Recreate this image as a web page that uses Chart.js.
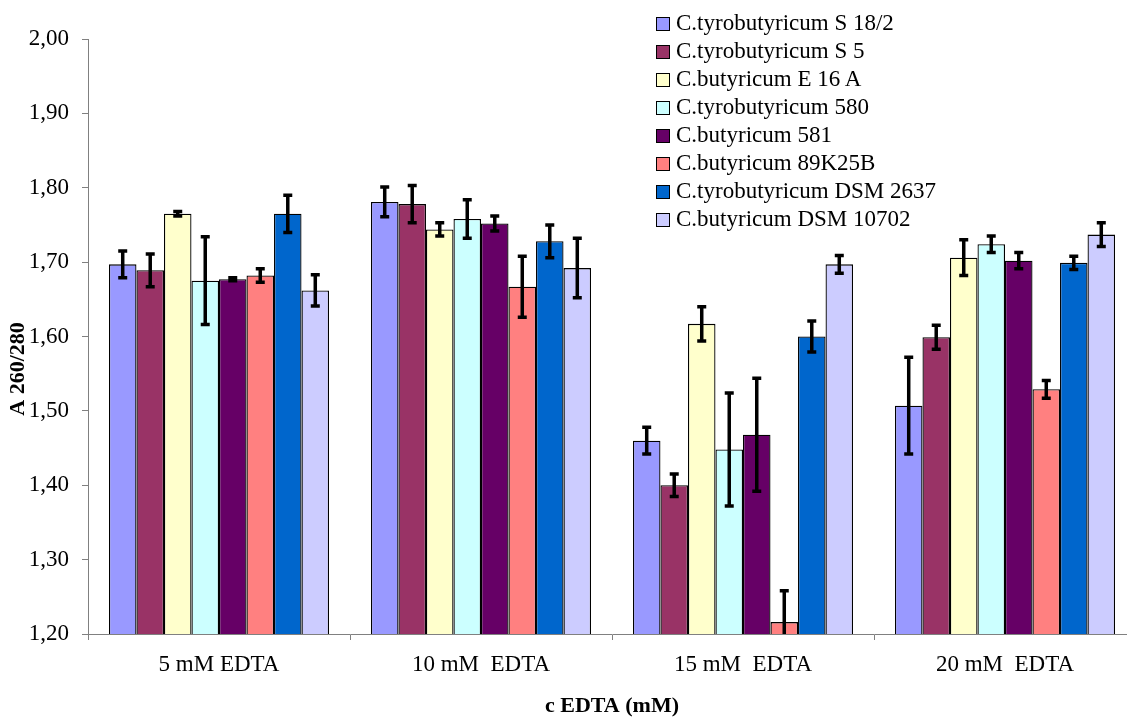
<!DOCTYPE html>
<html>
<head>
<meta charset="utf-8">
<script src="https://cdn.jsdelivr.net/npm/chart.js@4/dist/chart.umd.min.js"></script>
<style>
html, body { margin: 0; padding: 0; background: #fff; overflow: hidden; }
#wrap { position: relative; width: 1140px; height: 718px; }
#legend { position: absolute; left: 656px; top: 9px; font-family: 'Liberation Serif', 'Times New Roman', serif; font-size: 23px; color: #000; }
#legend .row { height: 28px; line-height: 28px; white-space: nowrap; }
#legend .box { display: inline-block; width: 12px; height: 12px; border: 1px solid #000; margin-right: 6px; vertical-align: -1px; }
</style>
</head>
<body>
<div id="wrap">
  <canvas id="edtaChart"></canvas>
  <div id="legend"></div>
</div>
<script>
var categories = ['5 mM EDTA', '10 mM  EDTA', '15 mM  EDTA', '20 mM  EDTA'];

var strains = ['C.tyrobutyricum S 18/2', 'C.tyrobutyricum S 5', 'C.butyricum E 16 A', 'C.tyrobutyricum 580',
               'C.butyricum 581', 'C.butyricum 89K25B', 'C.tyrobutyricum DSM 2637', 'C.butyricum DSM 10702'];

var colors = ['#9999FF', '#993366', '#FFFFCC', '#CCFFFF', '#660066', '#FF8080', '#0066CC', '#CCCCFF'];

// A 260/280 means and their deviations, one array per strain
var tyroS18 = [1.697, 1.781, 1.460, 1.507];
var tyroS18Err = [0.018, 0.020, 0.018, 0.065];
var tyroS5 = [1.689, 1.778, 1.400, 1.599];
var tyroS5Err = [0.022, 0.025, 0.015, 0.016];
var butE16A = [1.765, 1.744, 1.617, 1.706];
var butE16AErr = [0.003, 0.009, 0.023, 0.024];
var tyro580 = [1.675, 1.758, 1.448, 1.724];
var tyro580Err = [0.059, 0.026, 0.076, 0.011];
var but581 = [1.677, 1.752, 1.468, 1.702];
var but581Err = [0.002, 0.010, 0.076, 0.011];
var but89K = [1.682, 1.667, 1.216, 1.529];
var but89KErr = [0.009, 0.041, 0.042, 0.012];
var tyroDsm = [1.765, 1.728, 1.600, 1.699];
var tyroDsmErr = [0.025, 0.022, 0.021, 0.009];
var butDsm = [1.662, 1.692, 1.697, 1.737];
var butDsmErr = [0.021, 0.040, 0.012, 0.016];

var yTicks = [1.2, 1.3, 1.4, 1.5, 1.6, 1.7, 1.8, 1.9, 2.0];

var values = [tyroS18, tyroS5, butE16A, tyro580, but581, but89K, tyroDsm, butDsm];
var errors = [tyroS18Err, tyroS5Err, butE16AErr, tyro580Err, but581Err, but89KErr, tyroDsmErr, butDsmErr];

var FONT = "'Liberation Serif', 'Times New Roman', serif";

var datasets = strains.map(function (name, i) {
    return {
        label: name,
        data: values[i],
        errors: errors[i],
        backgroundColor: colors[i],
        borderColor: '#000',
        borderWidth: 1.3,
        borderSkipped: false
    };
});

// black error bars with caps
var errorBars = {
    id: 'errorBars',
    afterDatasetsDraw: function (chart) {
        var ctx = chart.ctx, y = chart.scales.y, area = chart.chartArea;
        ctx.save();
        ctx.beginPath();
        ctx.rect(area.left, area.top - 10, area.right - area.left, area.bottom - area.top + 10);
        ctx.clip();
        ctx.strokeStyle = '#000';
        ctx.lineWidth = 3.5;
        chart.data.datasets.forEach(function (ds, i) {
            chart.getDatasetMeta(i).data.forEach(function (bar, j) {
                var v = ds.data[j], e = ds.errors[j];
                var top = y.getPixelForValue(v + e);
                var bot = y.getPixelForValue(v - e);
                ctx.beginPath();
                ctx.moveTo(bar.x, top);
                ctx.lineTo(bar.x, bot);
                ctx.moveTo(bar.x - 4.5, top);
                ctx.lineTo(bar.x + 4.5, top);
                ctx.moveTo(bar.x - 4.5, bot);
                ctx.lineTo(bar.x + 4.5, bot);
                ctx.stroke();
            });
        });
        ctx.restore();
    }
};

var axisTitles = {
    id: 'axisTitles',
    afterDraw: function (chart) {
        var ctx = chart.ctx, area = chart.chartArea;
        ctx.save();
        ctx.fillStyle = '#000';
        ctx.font = 'bold 22px ' + FONT;
        ctx.textAlign = 'center';
        ctx.textBaseline = 'middle';
        ctx.fillText('c EDTA (mM)', (area.left + area.right) / 2, 706);
        ctx.translate(18, 369);
        ctx.rotate(-Math.PI / 2);
        ctx.fillText('A 260/280', 0, 0);
        ctx.restore();
    }
};

var ctx = document.getElementById('edtaChart').getContext('2d');
var edtaChart = new Chart(ctx, {
    type: 'bar',
    data: {
        labels: categories,
        datasets: datasets
    },
    options: {
        responsive: true,
        maintainAspectRatio: false,
        animation: false,
        layout: { padding: { top: 39, right: 4, left: 0, bottom: 0 } },
        datasets: {
            bar: { categoryPercentage: 0.84, barPercentage: 1.0 }
        },
        plugins: {
            legend: { display: false },
            tooltip: { enabled: false }
        },
        scales: {
            x: {
                afterFit: function (scale) { scale.height = 84; },
                grid: { display: true, drawOnChartArea: false, offset: true, tickLength: 6, color: '#808080' },
                border: { color: '#808080', width: 1 },
                ticks: { color: '#000', font: { family: FONT, size: 23 }, padding: 11, maxRotation: 0 }
            },
            y: {
                min: 1.2,
                max: 2.0,
                afterFit: function (scale) { scale.width = 88; },
                afterBuildTicks: function (scale) {
                    scale.ticks = yTicks.map(function (v) { return { value: v }; });
                },
                grid: { display: true, drawOnChartArea: false, tickLength: 6, color: '#808080' },
                border: { color: '#808080', width: 1 },
                ticks: {
                    color: '#000',
                    font: { family: FONT, size: 23 },
                    padding: 13,
                    callback: function (v) { return v.toFixed(2).replace('.', ','); }
                }
            }
        }
    },
    plugins: [errorBars, axisTitles]
});

var legend = document.getElementById('legend');
strains.forEach(function (name, i) {
    var row = document.createElement('div');
    row.className = 'row';
    var box = document.createElement('span');
    box.className = 'box';
    box.style.background = colors[i];
    row.appendChild(box);
    row.appendChild(document.createTextNode(name));
    legend.appendChild(row);
});
</script>
</body>
</html>
